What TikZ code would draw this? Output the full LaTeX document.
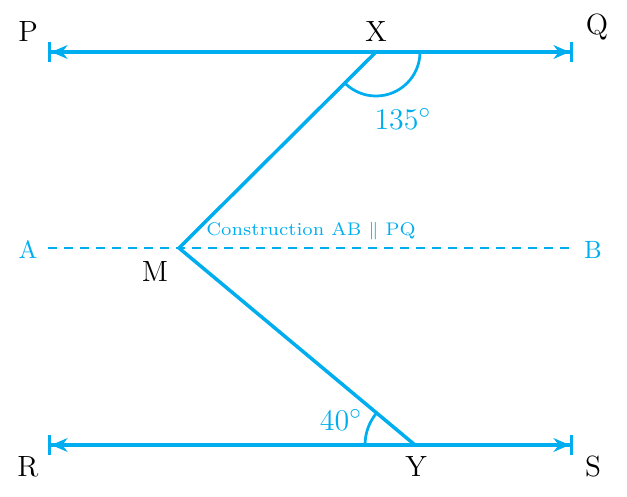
\documentclass[tikz,border=0pt]{standalone}
\usetikzlibrary{arrows.meta}
\definecolor{mycyan}{RGB}{0,174,239}
\begin{document}
\begin{tikzpicture}[x=0.4pt,y=0.4pt,
  geo/.style={draw=mycyan,line width=1.4pt},
  dline/.style={draw=mycyan,line width=1.3pt,
    arrows={Bar[width=8pt,sep=0pt]Stealth[length=6.5pt,width=5.5pt]}-{Stealth[length=6.5pt,width=5.5pt]Bar[width=8pt,sep=0pt]}},
  anglearc/.style={draw=mycyan,line width=1.1pt},
  blab/.style={text=black,font=\fontsize{11.7}{13}\selectfont,inner sep=0pt},
  clab/.style={text=mycyan,font=\fontsize{10}{12}\selectfont,inner sep=0pt},
  dlab/.style={text=mycyan,font=\fontsize{13}{15}\selectfont,inner sep=0pt}]
\useasboundingbox (0,0) rectangle (627,496);
% points
\coordinate (P1) at (48,444);
\coordinate (Q1) at (573,444);
\coordinate (R1) at (48,51);
\coordinate (S1) at (573,51);
\coordinate (A1) at (48,248);
\coordinate (B1) at (573,248);
\coordinate (X) at (376,444);
\coordinate (M) at (179,248);
\coordinate (Y) at (415,51);
% lines
\draw[dline] (P1) -- (Q1);
\draw[dline] (R1) -- (S1);
\draw[draw=mycyan,line width=0.9pt,dash pattern=on 3.6pt off 2.8pt] (A1) -- (B1);
\draw[geo,line join=miter] (X) -- (M) -- (Y);
% angle arcs
\draw[anglearc] ([shift={(0:44)}]X) arc[start angle=0,end angle=-135,radius=44];
\draw[anglearc] ([shift={(180:50)}]Y) arc[start angle=180,end angle=140,radius=50];
% labels
\node[blab] (lP) at (28,464) {P};
\node[blab] (lX) at (376,464) {X};
\node[blab] (lQ) at (597,469) {Q};
\node[blab] (lR) at (28,29) {R};
\node[blab] (lY) at (416,29) {Y};
\node[blab] (lS) at (593,29) {S};
\node[blab] (lM) at (155,224) {M};
\node[clab] (lA) at (28,246) {A};
\node[clab] (lB) at (593,246) {B};
\node[dlab] (a135) at (403,377) {$135^{\circ}$};
\node[dlab] (a40) at (341,76) {$40^{\circ}$};
\node[text=mycyan,font=\fontsize{7.3}{8}\selectfont,inner sep=0pt] (cons) at (311,265) {Construction AB $\parallel$ PQ};
\end{tikzpicture}
\end{document}
